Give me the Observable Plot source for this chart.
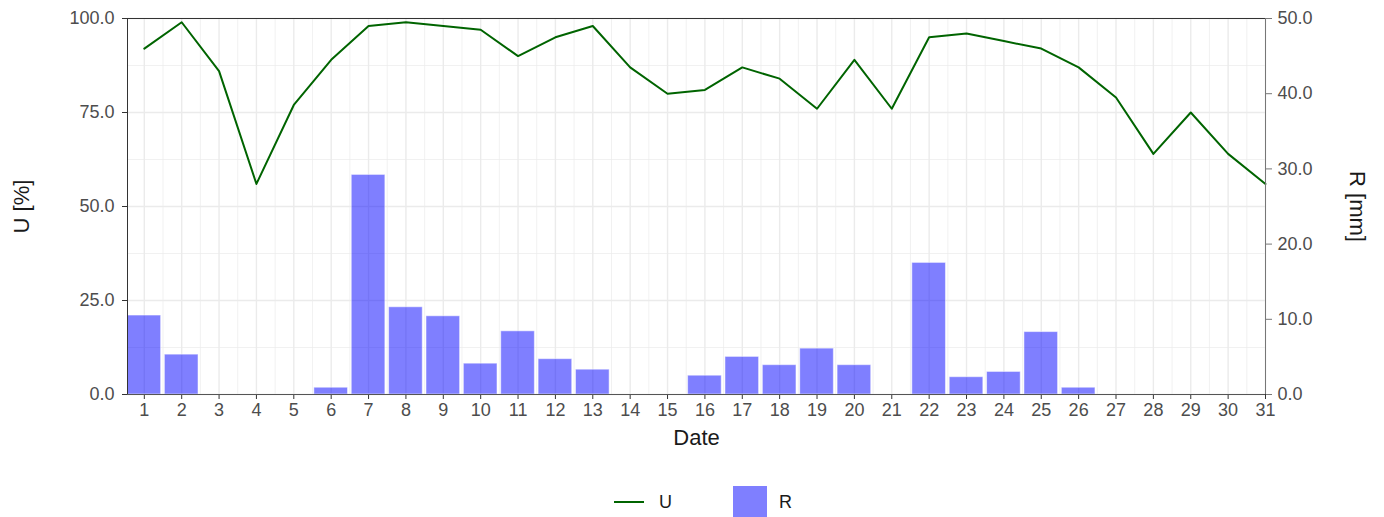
<!DOCTYPE html>
<html>
<head>
<meta charset="utf-8">
<script src="https://cdn.jsdelivr.net/npm/d3@7"></script>
<script src="https://cdn.jsdelivr.net/npm/@observablehq/plot@0.6"></script>
<style>
  html, body { margin: 0; padding: 0; background: #fff; overflow: hidden; }
  body { width: 1384px; height: 517px; position: relative; font-family: "Liberation Sans", Arial, sans-serif; }
  .sw-line { position: absolute; left: 614px; top: 501px; width: 30px; height: 2px; background: #006400; }
  .sw-rect { position: absolute; left: 733px; top: 486px; width: 34px; height: 34px; background: rgba(0,0,255,0.5); }
  .lab { position: absolute; font-size: 18px; color: #1a1a1a; top: 492px; line-height: 20px; }
</style>
</head>
<body>
<div id="chart"></div>
<script>
const days = d3.range(1, 32);
const U = [92, 99, 86, 56, 77, 89, 98, 99, 98, 97, 90, 95, 98, 87, 80, 81, 87, 84, 76, 89, 76, 95, 96, 94, 92, 87, 79, 64, 75, 64, 56];
const R = [10.5, 5.3, 0, 0, 0, 0.9, 29.2, 11.6, 10.4, 4.1, 8.4, 4.7, 3.3, 0, 0, 2.5, 5.0, 3.9, 6.1, 3.9, 0, 17.5, 2.3, 3.0, 8.3, 0.9, 0, 0, 0, 0, 0];
const uTicks = [0, 25, 50, 75, 100];
const rTicks = [0, 10, 20, 30, 40, 50];
const seriesNames = ["U", "R"];

const rows = days.map((d, i) => ({day: d, U: U[i], R: R[i]}));
const bars = rows.filter(d => d.R > 0);
const scaleR = 100 / 50; // R axis 0-50 mapped onto U axis 0-100
const minorX = d3.range(1.5, 31, 1);
const minorY = [12.5, 37.5, 62.5, 87.5];
const grid = "#ebebeb";
const textCol = "#4d4d4d";

const chart = Plot.plot({
  width: 1384,
  height: 460,
  marginLeft: 127,
  marginRight: 119,
  marginTop: 18,
  marginBottom: 66,
  style: { fontFamily: "Liberation Sans, Arial, sans-serif", fontSize: "18px", background: "white", overflow: "visible" },
  x: { domain: [0.55, 31] },
  y: { domain: [0, 100] },
  marks: [
    Plot.gridX(minorX, { stroke: grid, strokeOpacity: 1, strokeWidth: 0.7 }),
    Plot.gridY(minorY, { stroke: grid, strokeOpacity: 1, strokeWidth: 0.7 }),
    Plot.gridX(days, { stroke: grid, strokeOpacity: 1, strokeWidth: 1.4 }),
    Plot.gridY(uTicks, { stroke: grid, strokeOpacity: 1, strokeWidth: 1.4 }),
    Plot.rectY(bars, {
      x1: d => d.day - 0.45, x2: d => d.day + 0.45, y1: 0, y2: d => d.R * scaleR,
      fill: "#0000ff", fillOpacity: 0.5, stroke: "white", strokeOpacity: 0.5, strokeWidth: 1
    }),
    Plot.lineY(rows, { x: "day", y: "U", stroke: "#006400", strokeWidth: 2 }),
    Plot.ruleY([100], { stroke: "#333", strokeWidth: 1 }),
    Plot.axisY({ anchor: "left", ticks: uTicks, tickFormat: d => d.toFixed(1), tickSize: 5, tickPadding: 8, label: null, color: textCol, stroke: "#333", fontSize: 18 }),
    Plot.axisY({ anchor: "right", ticks: rTicks.map(v => v * scaleR), tickFormat: d => (d / scaleR).toFixed(1), tickSize: 6, tickPadding: 6, label: null, color: textCol, stroke: "#777", fontSize: 18 }),
    Plot.axisX({ ticks: days, tickFormat: d => String(d), tickSize: 5, tickPadding: 4, label: null, color: textCol, stroke: "#333", fontSize: 18 }),
    Plot.ruleX([0.55], { stroke: "#333", strokeWidth: 1 }),
    Plot.ruleX([31], { stroke: "#777", strokeWidth: 1 }),
    Plot.ruleY([0], { stroke: "#555", strokeWidth: 1 }),
    Plot.text(["U [%]"], { frameAnchor: "left", dx: -106, rotate: -90, textAnchor: "middle", lineAnchor: "middle", fontSize: 22, fill: "#1a1a1a" }),
    Plot.text(["R [mm]"], { frameAnchor: "right", dx: 92, rotate: 90, textAnchor: "middle", lineAnchor: "middle", fontSize: 22, fill: "#1a1a1a" }),
    Plot.text(["Date"], { frameAnchor: "bottom", dy: 43, textAnchor: "middle", lineAnchor: "middle", fontSize: 22, fill: "#1a1a1a" })
  ]
});
document.getElementById("chart").appendChild(chart);

const legend = document.createElement("div");
legend.innerHTML =
  '<div class="sw-line"></div><div class="lab" style="left:659px">' + seriesNames[0] + '</div>' +
  '<div class="sw-rect"></div><div class="lab" style="left:779px">' + seriesNames[1] + '</div>';
document.body.appendChild(legend);
</script>
</body>
</html>
